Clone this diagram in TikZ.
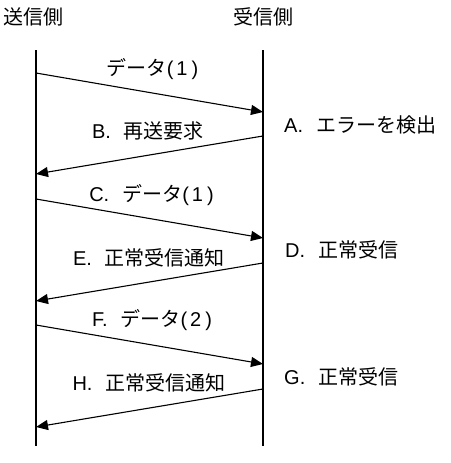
\documentclass[tikz,border=0pt]{standalone}
\usepackage{fontspec}
\setmainfont{Noto Sans CJK JP}
\newfontfamily\latfont{Liberation Sans}
\newcommand\lat[1]{{\latfont #1}}
\newcommand\num[1]{\lat{(\kern3pt #1\kern4pt)}}
\usetikzlibrary{arrows.meta}
\begin{document}
\begin{tikzpicture}[x=1pt,y=-1pt,
  lbl/.style={font=\fontsize{20}{20}\selectfont, inner sep=0pt},
  life/.style={line width=2pt},
  msg/.style={line width=1.1pt, -{Triangle[length=12pt,width=10pt]}}]
\useasboundingbox (0,0) rectangle (450,463);
% headers
\node[lbl] (snd) at (33.5,17) {送信側};
\node[lbl] (rcv) at (263,17) {受信側};
% lifelines
\coordinate (sT) at (36,50);  \coordinate (sB) at (36,446);
\coordinate (rT) at (263,50); \coordinate (rB) at (263,446);
\draw[life] (sT) -- (sB);
\draw[life] (rT) -- (rB);
% message end points
\coordinate (m1a) at (36,73);  \coordinate (m1b) at (263,112);
\coordinate (m2a) at (263,136); \coordinate (m2b) at (36,174);
\coordinate (m3a) at (36,199); \coordinate (m3b) at (263,238);
\coordinate (m4a) at (263,263); \coordinate (m4b) at (36,301);
\coordinate (m5a) at (36,325); \coordinate (m5b) at (263,364);
\coordinate (m6a) at (263,389); \coordinate (m6b) at (36,427);
\draw[msg] (m1a) -- (m1b);
\draw[msg] (m2a) -- (m2b);
\draw[msg] (m3a) -- (m3b);
\draw[msg] (m4a) -- (m4b);
\draw[msg] (m5a) -- (m5b);
\draw[msg] (m6a) -- (m6b);
% labels
\node[lbl] (l1) at (152.5,69) {データ\num{1}};
\node[lbl] (lB) at (148,131) {\lat{B.}\hspace{0.65em}再送要求};
\node[lbl,anchor=west] (lA) at (284,125) {\lat{A.}\hspace{0.65em}エラーを検出};
\node[lbl] (lC) at (151.5,195) {\lat{C.}\hspace{0.65em}データ\num{1}};
\node[lbl] (lE) at (149,258) {\lat{E.}\hspace{0.65em}正常受信通知};
\node[lbl,anchor=west] (lD) at (285,250) {\lat{D.}\hspace{0.65em}正常受信};
\node[lbl] (lF) at (152,320) {\lat{F.}\hspace{0.65em}データ\num{2}};
\node[lbl] (lH) at (149,383) {\lat{H.}\hspace{0.65em}正常受信通知};
\node[lbl,anchor=west] (lG) at (284,377) {\lat{G.}\hspace{0.65em}正常受信};
\end{tikzpicture}
\end{document}
